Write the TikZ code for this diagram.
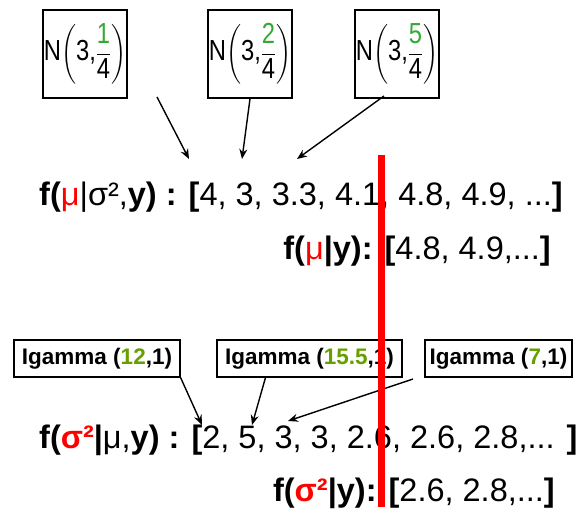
\documentclass[tikz,border=0pt]{standalone}
\usepackage{amsmath}
\usepackage{graphicx}
\usepackage{fontspec}
\setmainfont{Liberation Sans}
\usetikzlibrary{arrows.meta}
\definecolor{fgreen}{HTML}{33AA33}
\definecolor{ogreen}{HTML}{66A000}
\definecolor{redl}{HTML}{FF0000}
\newcommand\rd[1]{\textcolor{redl}{#1}}
\newcommand\normbox[1]{\scalebox{0.82}[1]{$\mbox{N}\!\left(\mbox{3,}\genfrac{}{}{1.2pt}{0}{\mbox{\textcolor{fgreen}{#1}}}{\mbox{4}}\right)$}}
\begin{document}
\begin{tikzpicture}[x=1pt,y=-1pt,
  nbox/.style={draw,line width=1.6pt,minimum width=84pt,minimum height=88pt,inner sep=0pt,font=\fontsize{29}{32}\selectfont},
  gbox/.style={draw,line width=1.2pt,minimum height=37pt,inner sep=0pt,font=\fontsize{22.5}{24}\selectfont\bfseries},
  seq/.style={inner sep=0pt,font=\fontsize{32.5}{36}\selectfont},
  arr/.style={line width=1.4pt,-{Stealth[length=10pt,width=8pt]}}]
\useasboundingbox (0,0) rectangle (576,509);
% normal prior boxes
\node[nbox] (b1) at (85,54) {\normbox{1}};
\node[nbox] (b2) at (250,54) {\normbox{2}};
\node[nbox] (b3) at (397,54) {\normbox{5}};
% sequences
\node[seq,anchor=base west] (l1) at (39,205) {\textbf{f(}\rd{μ}|σ²,\textbf{y) : [}4, 3, 3.3, 4.1, 4.8, 4.9, ...\textbf{]}};
\node[seq,anchor=base east] (l2) at (551,259) {\textbf{f(}\rd{μ}\textbf{|y): [}4.8, 4.9,...\textbf{]}};
\node[seq,anchor=base west] (l3) at (39,448) {\textbf{f(\rd{σ²}|}μ,\textbf{y) : [}2, 5, 3, 3, 2.6, 2.6, 2.8,... \textbf{]}};
\node[seq,anchor=base east] (l4) at (555,501) {\textbf{f(\rd{σ²}|y): [}2.6, 2.8,...\textbf{]}};
% inverse gamma boxes
\node[gbox,minimum width=166pt] (g1) at (97,358.5) {Igamma (\textcolor{ogreen}{12},1)};
\node[gbox,minimum width=185pt] (g2) at (309.5,358.5) {Igamma (\textcolor{ogreen}{15.5},1)};
\node[gbox,minimum width=147pt] (g3) at (498.5,358.5) {Igamma (\textcolor{ogreen}{7},1)};
% arrow coordinates
\coordinate (s1) at (157,97);
\coordinate (e1) at (189,159);
\coordinate (e2) at (242,159);
\coordinate (s3) at (384,96);
\coordinate (e3) at (297,159);
\coordinate (ta) at (202,425);
\coordinate (tb) at (252,425);
\coordinate (sc) at (413,379);
\coordinate (tc) at (288,421);
\draw[arr] (s1) -- (e1);
\draw[arr] (b2.south) -- (e2);
\draw[arr] (s3) -- (e3);
\draw[arr] (g1.south east) -- (ta);
\draw[arr] ([xshift=-44pt]g2.south) -- (tb);
\draw[arr] (sc) -- (tc);
% red divider
\coordinate (rt) at (381,155);
\coordinate (rb) at (381,507);
\draw[redl,line width=7pt] (rt) -- (rb);
\end{tikzpicture}
\end{document}
